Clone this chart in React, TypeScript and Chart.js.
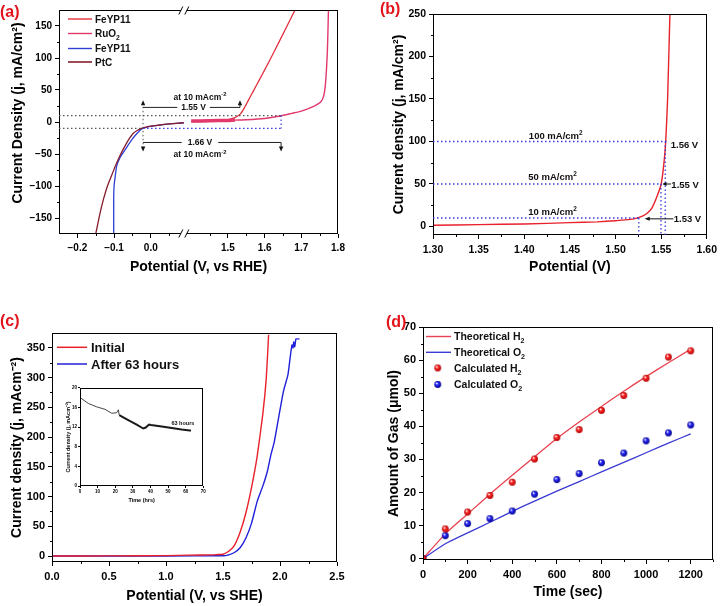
import React, { useEffect, useRef } from 'react';
import { Chart, registerables } from 'chart.js';
Chart.register(...registerables);

const FONT = "'Liberation Sans', Arial, Helvetica, sans-serif";

// ---------------- Panel (a) ----------------
const A_BREAK_LO = 0.09;
const A_BREAK_HI = 1.38;
const A_X_TICKS = [-0.2, -0.1, 0.0, 1.5, 1.6, 1.7, 1.8];
const A_X_LABELS = ['\u22120.2', '\u22120.1', '0.0', '1.5', '1.6', '1.7', '1.8'];
const A_X_MINOR = [-0.15, -0.05, 0.05, 1.45, 1.55, 1.65, 1.75];
const A_Y_TICKS = [-150, -100, -50, 0, 50, 100, 150];
const A_Y_LABELS = ['\u2212150', '\u2212100', '\u221250', '0', '50', '100', '150'];
const A_Y_MINOR = [-125, -75, -25, 25, 75, 125];

const A_OER_X = [1.40, 1.45, 1.48, 1.50, 1.515, 1.525, 1.535, 1.545, 1.555, 1.57, 1.585, 1.60, 1.628, 1.655, 1.683];
const A_OER_Y = [0.5, 1, 2, 3.5, 6, 8.5, 13, 22, 33, 49, 65, 81, 112, 143, 175];
const A_RUO2_X = [1.40, 1.45, 1.50, 1.52, 1.55, 1.60, 1.642, 1.674, 1.70, 1.719, 1.74, 1.752, 1.758, 1.762, 1.765, 1.767, 1.769, 1.771, 1.7725, 1.774];
const A_RUO2_Y = [1.5, 2, 2.5, 3, 3.5, 5.5, 9.3, 13.5, 17, 21, 26.5, 31, 36, 43, 55, 68, 86, 110, 140, 175];
const A_PTC_X = [-0.15, -0.14, -0.129, -0.118, -0.107, -0.097, -0.086, -0.076, -0.062, -0.0475, -0.035, -0.025, -0.01, 0.0, 0.025, 0.05, 0.09];
const A_PTC_Y = [-175, -147, -121, -100, -84, -69.5, -55, -43.5, -29, -17.6, -12.5, -9.8, -7.5, -6.5, -4.7, -3, -1.2];
const A_HER_X = [-0.101, -0.101, -0.1, -0.098, -0.093, -0.085, -0.07, -0.052, -0.037, -0.025, -0.01, 0.0, 0.025, 0.05, 0.09];
const A_HER_Y = [-175, -120, -100, -90, -69.5, -57, -43.5, -28, -17.6, -11, -8, -6.8, -4.8, -3, -1.2];

// ---------------- Panel (b) ----------------
const B_X_TICKS = [1.30, 1.35, 1.40, 1.45, 1.50, 1.55, 1.60];
const B_X_LABELS = ['1.30', '1.35', '1.40', '1.45', '1.50', '1.55', '1.60'];
const B_X_MINOR = [1.325, 1.375, 1.425, 1.475, 1.525, 1.575];
const B_Y_TICKS = [0, 50, 100, 150, 200, 250];
const B_Y_LABELS = ['0', '50', '100', '150', '200', '250'];
const B_Y_MINOR = [25, 75, 125, 175, 225];
const B_X = [1.30, 1.35, 1.40, 1.45, 1.48, 1.50, 1.51, 1.52, 1.525, 1.53, 1.535, 1.54, 1.545, 1.55, 1.553, 1.555, 1.557, 1.559, 1.5596];
const B_Y = [1.5, 2.2, 3, 4.5, 5.5, 6.8, 7.8, 9, 10.5, 12.5, 16, 22, 34, 50, 74, 100, 148, 226, 250];

// ---------------- Panel (c) ----------------
const C_X_TICKS = [0, 0.5, 1.0, 1.5, 2.0, 2.5];
const C_X_LABELS = ['0.0', '0.5', '1.0', '1.5', '2.0', '2.5'];
const C_X_MINOR = [0.25, 0.75, 1.25, 1.75, 2.25];
const C_Y_TICKS = [0, 50, 100, 150, 200, 250, 300, 350];
const C_Y_LABELS = ['0', '50', '100', '150', '200', '250', '300', '350'];
const C_Y_MINOR = [25, 75, 125, 175, 225, 275, 325];
const C_INIT_X = [0, 0.5, 1.0, 1.2, 1.4, 1.45, 1.5, 1.55, 1.6, 1.65, 1.7, 1.75, 1.8, 1.85, 1.88, 1.90];
const C_INIT_Y = [0, 0.3, 0.8, 1.5, 2, 2.5, 3, 8, 18, 40, 72, 115, 168, 240, 300, 372];
const C_AFTER_X = [0, 0.5, 1.0, 1.5, 1.55, 1.6, 1.65, 1.7, 1.75, 1.8, 1.85, 1.89, 1.92, 1.95, 1.99, 2.03, 2.07, 2.09, 2.105, 2.115, 2.12, 2.13, 2.14, 2.17];
const C_AFTER_Y = [0, 0, 0.2, 0.5, 2, 6, 14, 30, 55, 92, 118, 143, 170, 192, 235, 277, 305, 335, 355, 350, 360, 352, 365, 365];
// inset
const CI_X_TICKS = [0, 10, 20, 30, 40, 50, 60, 70];
const CI_X_LABELS = ['0', '10', '20', '30', '40', '50', '60', '70'];
const CI_Y_TICKS = [0, 4, 8, 12, 16, 20];
const CI_Y_LABELS = ['0', '4', '8', '12', '16', '20'];
const CI_T = [0, 4.7, 9.5, 14.2, 18, 20.8, 21.8, 22.3, 27.4, 32.2, 35.9, 37.3, 39.2, 40.3, 46.4, 54, 57.7, 62.4, 63];
const CI_J = [18, 16.8, 16.1, 15.6, 14.8, 14.9, 15.5, 14.4, 13.4, 12.5, 11.7, 11.9, 12.5, 12.4, 12.1, 11.7, 11.5, 11.3, 11.3];

// ---------------- Panel (d) ----------------
const D_X_TICKS = [0, 200, 400, 600, 800, 1000, 1200];
const D_X_LABELS = ['0', '200', '400', '600', '800', '1000', '1200'];
const D_X_MINOR = [100, 300, 500, 700, 900, 1100, 1300];
const D_Y_TICKS = [0, 10, 20, 30, 40, 50, 60, 70];
const D_Y_LABELS = ['0', '10', '20', '30', '40', '50', '60', '70'];
const D_Y_MINOR = [5, 15, 25, 35, 45, 55, 65];
const D_T = [0, 100, 200, 300, 400, 500, 600, 700, 800, 900, 1000, 1100, 1200];
const D_THEO_H2 = [0, 7.5, 13.5, 19.5, 25.2, 30.8, 36.3, 41.3, 46, 50.6, 55, 59.2, 63.3];
const D_THEO_O2 = [0, 4.5, 7.8, 11, 14.3, 17.4, 20.4, 23.3, 26.2, 29.1, 32.0, 34.9, 37.7];
const D_CALC_H2 = [0, 9, 14.1, 19.1, 23.1, 30.1, 36.6, 39, 44.8, 49.3, 54.5, 60.9, 62.8];
const D_CALC_O2 = [0, 6.95, 10.6, 12.1, 14.4, 19.5, 23.9, 25.7, 29, 31.9, 35.6, 38, 40.4];

// colours
const RED_A = '#e3303d';
const PINK_A = '#e2386c';
const BLUE_A = '#2f3fd4';
const PTC_A = '#861c2c';
const RED = '#e8212b';
const BLUE = '#2020d8';
const DOTBLUE = '#3a3ad8';

const uA = (x: number) => (x <= A_BREAK_LO + 1e-9 ? x : x - (A_BREAK_HI - A_BREAK_LO));
const pts = (xs: number[], ys: number[], fx = (v: number) => v) => xs.map((x, i) => ({ x: fx(x), y: ys[i] }));

function mkAxis(o: any) {
  const horiz = o.position === 'bottom';
  const ts = o.titleSize ?? 14;
  return {
    type: 'linear',
    position: o.position,
    min: o.min,
    max: o.max,
    afterBuildTicks: (s: any) => {
      s.ticks = o.ticks.map((v: number) => ({ value: v }));
    },
    afterFit: (s: any) => {
      if (horiz) s.height = o.size;
      else s.width = o.size;
    },
    ticks: {
      autoSkip: false,
      maxRotation: 0,
      minRotation: 0,
      padding: o.tickPad ?? 3,
      color: '#000',
      font: { family: FONT, size: o.font, weight: 'bold' },
      callback: (_v: any, i: number) => o.labels[i],
    },
    grid: {
      display: true,
      drawOnChartArea: false,
      drawTicks: true,
      tickLength: o.tickLen ?? 4,
      tickColor: '#000',
      color: '#000',
      lineWidth: 1,
    },
    border: { display: false },
    title: {
      display: o.title !== '',
      text: o.title,
      color: '#000',
      font: { family: FONT, size: ts, weight: 'bold' },
      padding: horiz ? { top: 0, bottom: o.titlePad } : { top: o.titlePad, bottom: 0 },
    },
  };
}

function lineDS(data: any[], color: string, width: number, extra: any = {}) {
  return {
    data,
    borderColor: color,
    backgroundColor: color,
    borderWidth: width,
    pointRadius: 0,
    pointHoverRadius: 0,
    tension: 0.15,
    fill: false,
    ...extra,
  };
}

function seg(ctx: any, x1: number, y1: number, x2: number, y2: number, color: string, width = 1, dash: number[] = []) {
  ctx.save();
  ctx.strokeStyle = color;
  ctx.lineWidth = width;
  ctx.setLineDash(dash);
  ctx.beginPath();
  ctx.moveTo(x1, y1);
  ctx.lineTo(x2, y2);
  ctx.stroke();
  ctx.restore();
}

function head(ctx: any, x: number, y: number, dir: string, color = '#111', len = 5, half = 2.2) {
  ctx.save();
  ctx.fillStyle = color;
  ctx.beginPath();
  if (dir === 'up') {
    ctx.moveTo(x, y); ctx.lineTo(x - half, y + len); ctx.lineTo(x + half, y + len);
  } else if (dir === 'down') {
    ctx.moveTo(x, y); ctx.lineTo(x - half, y - len); ctx.lineTo(x + half, y - len);
  } else if (dir === 'left') {
    ctx.moveTo(x, y); ctx.lineTo(x + len, y - half); ctx.lineTo(x + len, y + half);
  } else {
    ctx.moveTo(x, y); ctx.lineTo(x - len, y - half); ctx.lineTo(x - len, y + half);
  }
  ctx.closePath();
  ctx.fill();
  ctx.restore();
}

// rich text: parts are [text, mode] where mode is '' | 'sub' | 'sup'
type Part = [string, string];
function richWidth(ctx: any, parts: Part[], size: number) {
  let w = 0;
  ctx.save();
  for (const [s, m] of parts) {
    const fs = m ? size * 0.68 : size;
    ctx.font = `bold ${fs}px ${FONT}`;
    w += ctx.measureText(s).width;
  }
  ctx.restore();
  return w;
}
function rich(ctx: any, parts: Part[], x: number, y: number, size: number, align = 'left', color = '#111') {
  const w = richWidth(ctx, parts, size);
  let cx = align === 'center' ? x - w / 2 : align === 'right' ? x - w : x;
  ctx.save();
  ctx.fillStyle = color;
  ctx.textAlign = 'left';
  ctx.textBaseline = 'alphabetic';
  const base = y + size * 0.35;
  for (const [s, m] of parts) {
    const fs = m ? size * 0.68 : size;
    ctx.font = `bold ${fs}px ${FONT}`;
    const dy = m === 'sub' ? size * 0.28 : m === 'sup' ? -size * 0.38 : 0;
    ctx.fillText(s, cx, base + dy);
    cx += ctx.measureText(s).width;
  }
  ctx.restore();
  return w;
}
const txt = (ctx: any, s: string, x: number, y: number, size: number, align = 'center', color = '#111') =>
  rich(ctx, [[s, '']], x, y, size, align, color);

function frame(chart: any, minorX: number[], minorY: number[], len = 2.5) {
  const { ctx, chartArea: a, scales } = chart;
  ctx.save();
  ctx.strokeStyle = '#000';
  ctx.lineWidth = 1;
  const l = Math.round(a.left) + 0.5;
  const t = Math.round(a.top) + 0.5;
  const r = Math.round(a.right) - 0.5;
  const b = Math.round(a.bottom) - 0.5;
  ctx.strokeRect(l, t, r - l, b - t);
  ctx.beginPath();
  for (const v of minorX) {
    const x = Math.round(scales.x.getPixelForValue(v)) + 0.5;
    ctx.moveTo(x, b);
    ctx.lineTo(x, b + len);
  }
  for (const v of minorY) {
    const y = Math.round(scales.y.getPixelForValue(v)) + 0.5;
    ctx.moveTo(l - len, y);
    ctx.lineTo(l, y);
  }
  ctx.stroke();
  ctx.restore();
}

function legendLine(ctx: any, x1: number, x2: number, y: number, color: string, width: number, label: Part[], tx: number, size: number) {
  seg(ctx, x1, y, x2, y, color, width);
  rich(ctx, label, tx, y, size, 'left', '#111');
}

function ball(color: string, dark: string, r = 3.4) {
  const c = document.createElement('canvas');
  const s = Math.ceil(r * 2) + 2;
  c.width = s;
  c.height = s;
  const g = c.getContext('2d')!;
  const cx = s / 2;
  const grad = g.createRadialGradient(cx - r * 0.35, cx - r * 0.4, r * 0.1, cx, cx, r);
  grad.addColorStop(0, '#ffffff');
  grad.addColorStop(0.35, color);
  grad.addColorStop(1, dark);
  g.fillStyle = grad;
  g.beginPath();
  g.arc(cx, cx, r, 0, Math.PI * 2);
  g.fill();
  return c;
}

const baseOptions = (padding: any, scales: any) => ({
  responsive: false,
  animation: false,
  devicePixelRatio: 1,
  layout: { padding },
  plugins: { legend: { display: false }, tooltip: { enabled: false } },
  events: [],
  scales,
});

const AT10: Part[] = [['at 10 mAcm', ''], ['-2', 'sup']];

// ---------- configs ----------
function configA() {
  const decor = {
    id: 'decorA',
    afterDraw(chart: any) {
      const { ctx, chartArea: a, scales } = chart;
      const X = (u: number) => scales.x.getPixelForValue(u);
      const Y = (v: number) => scales.y.getPixelForValue(v);
      frame(chart, A_X_MINOR.map(uA), A_Y_MINOR);
      // y-axis title (placed as in the reference, slightly above centre)
      ctx.save();
      ctx.translate(18, 113);
      ctx.rotate(-Math.PI / 2);
      ctx.font = `bold 14px ${FONT}`;
      ctx.fillStyle = '#000';
      ctx.textAlign = 'center';
      ctx.textBaseline = 'middle';
      ctx.fillText('Current Density (j, mA/cm\u00B2)', 0, 0);
      ctx.restore();
      // axis break marks
      const bx = X(A_BREAK_LO);
      for (const yy of [Math.round(a.top) + 0.5, Math.round(a.bottom) - 0.5]) {
        ctx.save();
        ctx.fillStyle = '#fff';
        ctx.fillRect(bx - 3, yy - 2, 6, 4);
        ctx.restore();
        seg(ctx, bx - 5, yy + 4, bx - 1, yy - 4, '#000', 1);
        seg(ctx, bx + 1, yy + 4, bx + 5, yy - 4, '#000', 1);
      }
      const dot = [1.5, 2.5];
      const xl = -0.021;
      const xr = 0.355;
      const xm = 0.243;
      seg(ctx, X(-0.25), Y(10), X(xr), Y(10), '#555', 1.2, dot);
      seg(ctx, X(-0.25), Y(-10), X(xl), Y(-10), '#555', 1.2, dot);
      seg(ctx, X(xl), Y(-10), X(xr), Y(-10), DOTBLUE, 1.2, dot);
      seg(ctx, X(xr), Y(10), X(xr), Y(-10), DOTBLUE, 1.2, dot);
      seg(ctx, X(xl), Y(30), X(xl), Y(-42), '#555', 1, dot);
      head(ctx, X(xl), Y(34), 'up');
      head(ctx, X(xl), Y(-46), 'down');
      // upper bracket
      const yu = Y(22.8);
      const cu = X(0.1165);
      const w1 = richWidth(ctx, [['1.55 V', '']], 8.5) / 2 + 4;
      seg(ctx, X(xl), yu, cu - w1, yu, '#222', 1);
      seg(ctx, cu + w1, yu, X(xm), yu, '#222', 1);
      txt(ctx, '1.55 V', cu, yu, 8.5);
      seg(ctx, X(xm), yu, X(xm), Y(30), '#222', 1);
      head(ctx, X(xm), Y(34), 'up');
      rich(ctx, AT10, X(0.134), Y(39.5), 8.5, 'center');
      // lower bracket
      const yl = Y(-32);
      const cl = X(0.134);
      const w2 = richWidth(ctx, [['1.66 V', '']], 8.5) / 2 + 6;
      seg(ctx, X(xl), yl, cl - w2, yl, '#222', 1);
      seg(ctx, cl + w2, yl, X(xr), yl, '#222', 1);
      txt(ctx, '1.66 V', cl, yl, 8.5);
      seg(ctx, X(xr), yl, X(xr), Y(-42), '#222', 1);
      head(ctx, X(xr), Y(-46), 'down');
      rich(ctx, AT10, cl, Y(-50.5), 8.5, 'center');
      // legend
      legendLine(ctx, 68, 92, 19, RED_A, 1.4, [['FeYP11', '']], 95, 10);
      legendLine(ctx, 68, 92, 33.5, PINK_A, 1.4, [['RuO', ''], ['2', 'sub']], 95, 10);
      legendLine(ctx, 68, 92, 48.5, BLUE_A, 1.4, [['FeYP11', '']], 95, 10);
      legendLine(ctx, 68, 92, 62, PTC_A, 1.6, [['PtC', '']], 95, 10);
    },
  };
  return {
    type: 'line',
    data: {
      datasets: [
        lineDS(pts(A_PTC_X, A_PTC_Y, uA), PTC_A, 1.3),
        lineDS(pts(A_HER_X, A_HER_Y, uA), BLUE_A, 1.3),
        lineDS(pts(A_RUO2_X, A_RUO2_Y, uA), PINK_A, 1.4, {
          segment: { borderWidth: (c: any) => (c.p0DataIndex < 3 ? 3.5 : 1.4) },
        }),
        lineDS(pts(A_OER_X, A_OER_Y, uA), RED_A, 1.3),
      ],
    },
    options: baseOptions({ left: 0, top: 10, right: 23, bottom: 0 }, {
      x: mkAxis({ position: 'bottom', min: -0.25, max: uA(1.8), ticks: A_X_TICKS.map(uA), labels: A_X_LABELS, size: 69, font: 10, title: 'Potential (V, vs RHE)', titlePad: 27.6, tickPad: 4 }),
      y: mkAxis({ position: 'left', min: -175, max: 175, ticks: A_Y_TICKS, labels: A_Y_LABELS, size: 59, font: 10, title: '', titlePad: 9.6 }),
    }),
    plugins: [decor],
  };
}

function configB() {
  const decor = {
    id: 'decorB',
    afterDraw(chart: any) {
      const { ctx, scales } = chart;
      const X = (u: number) => scales.x.getPixelForValue(u);
      const Y = (v: number) => scales.y.getPixelForValue(v);
      frame(chart, B_X_MINOR, B_Y_MINOR);
      const dot = [1.5, 2.5];
      seg(ctx, X(1.30), Y(100), X(1.556), Y(100), DOTBLUE, 1.3, dot);
      seg(ctx, X(1.30), Y(50), X(1.5505), Y(50), DOTBLUE, 1.3, dot);
      seg(ctx, X(1.30), Y(10), X(1.5255), Y(10), DOTBLUE, 1.3, dot);
      seg(ctx, X(1.5255), Y(10), X(1.5255), Y(-10), DOTBLUE, 1.3, dot);
      seg(ctx, X(1.5498), Y(50), X(1.5498), Y(-10), DOTBLUE, 1.3, dot);
      seg(ctx, X(1.5545), Y(100), X(1.5545), Y(-10), DOTBLUE, 1.3, dot);
      rich(ctx, [['100 mA/cm', ''], ['2', 'sup']], X(1.4345), Y(107.4), 9.5, 'center');
      rich(ctx, [['50 mA/cm', ''], ['2', 'sup']], X(1.431), Y(58.6), 9.5, 'center');
      rich(ctx, [['10 mA/cm', ''], ['2', 'sup']], X(1.431), Y(17.6), 9.5, 'center');
      txt(ctx, '1.56 V', X(1.5605), Y(96.5), 9.5, 'left');
      seg(ctx, X(1.5607), Y(50), X(1.5525), Y(50), '#111', 1);
      head(ctx, X(1.5515), Y(50), 'left', '#111', 4, 2);
      txt(ctx, '1.55 V', X(1.5612), Y(49.6), 9.5, 'left');
      seg(ctx, X(1.5634), Y(9), X(1.534), Y(9), '#111', 1);
      head(ctx, X(1.532), Y(9), 'left', '#111', 5, 2);
      txt(ctx, '1.53 V', X(1.5638), Y(9), 9.5, 'left');
    },
  };
  return {
    type: 'line',
    data: { datasets: [lineDS(pts(B_X, B_Y), RED, 1.4)] },
    options: baseOptions({ left: 0, top: 14, right: 14, bottom: 0 }, {
      x: mkAxis({ position: 'bottom', min: 1.30, max: 1.60, ticks: B_X_TICKS, labels: B_X_LABELS, size: 68, font: 10.5, title: 'Potential (V)', titlePad: 27.6, tickPad: 5 }),
      y: mkAxis({ position: 'left', min: -10, max: 250, ticks: B_Y_TICKS, labels: B_Y_LABELS, size: 72, font: 10.5, title: 'Current density (j, mA/cm\u00B2)', titlePad: 29.6 }),
    }),
    plugins: [decor],
  };
}

function configC() {
  const decor = {
    id: 'decorC',
    afterDraw(chart: any) {
      const { ctx } = chart;
      frame(chart, C_X_MINOR, C_Y_MINOR);
      legendLine(ctx, 57, 87, 44.3, RED, 1.5, [['Initial', '']], 91, 13);
      legendLine(ctx, 57, 87, 61, BLUE, 1.5, [['After 63 hours', '']], 91, 13);
    },
  };
  return {
    type: 'line',
    data: {
      datasets: [
        lineDS(pts(C_INIT_X, C_INIT_Y), RED, 1.4),
        lineDS(pts(C_AFTER_X, C_AFTER_Y), BLUE, 1.4),
      ],
    },
    options: baseOptions({ left: 0, top: 30, right: 24, bottom: 0 }, {
      x: mkAxis({ position: 'bottom', min: 0, max: 2.5, ticks: C_X_TICKS, labels: C_X_LABELS, size: 44, font: 11, title: 'Potential (V, vs SHE)', titlePad: 1.9, tickPad: 4 }),
      y: mkAxis({ position: 'left', min: -10, max: 375, ticks: C_Y_TICKS, labels: C_Y_LABELS, size: 52, font: 11, title: 'Current density (j, mAcm\u207B\u00B2)', titlePad: 8.3 }),
    }),
    plugins: [decor],
  };
}

function configInset() {
  const decor = {
    id: 'decorInset',
    afterDraw(chart: any) {
      const { ctx, scales } = chart;
      frame(chart, [], [], 0);
      txt(ctx, '63 hours', scales.x.getPixelForValue(58.4), scales.y.getPixelForValue(12.9), 5.5);
    },
  };
  const idx = CI_T.indexOf(22.3);
  return {
    type: 'line',
    data: {
      datasets: [
        lineDS(pts(CI_T, CI_J), '#1a1a1a', 0.8, {
          tension: 0,
          segment: { borderWidth: (c: any) => (c.p0DataIndex >= idx ? 2 : 0.8) },
        }),
      ],
    },
    options: baseOptions({ left: 0, top: 5.7, right: 4.7, bottom: 0 }, {
      x: mkAxis({ position: 'bottom', min: 0, max: 70, ticks: CI_X_TICKS, labels: CI_X_LABELS, size: 21, font: 4.5, title: 'Time (hrs)', titleSize: 5.5, titlePad: 3.7, tickLen: 2, tickPad: 1 }),
      y: mkAxis({ position: 'left', min: 0, max: 20, ticks: CI_Y_TICKS, labels: CI_Y_LABELS, size: 22, font: 4.5, title: 'Current density (j, mAcm\u207B\u00B2)', titleSize: 5.5, titlePad: 6.7, tickLen: 2, tickPad: 1 }),
    }),
    plugins: [decor],
  };
}

function configD() {
  const redBall = ball('#ff2a2a', '#b00000');
  const blueBall = ball('#2a2aff', '#00008a');
  const decor = {
    id: 'decorD',
    afterDraw(chart: any) {
      const { ctx } = chart;
      frame(chart, D_X_MINOR, D_Y_MINOR);
      legendLine(ctx, 65, 90, 33.5, '#e8414f', 1.4, [['Theoretical H', ''], ['2', 'sub']], 93, 10.5);
      legendLine(ctx, 65, 90, 49.3, '#3b3bd4', 1.4, [['Theoretical O', ''], ['2', 'sub']], 93, 10.5);
      ctx.drawImage(redBall, 76.7 - redBall.width / 2, 65 - redBall.height / 2);
      rich(ctx, [['Calculated H', ''], ['2', 'sub']], 93, 65, 10.5, 'left');
      ctx.drawImage(blueBall, 76.7 - blueBall.width / 2, 81.5 - blueBall.height / 2);
      rich(ctx, [['Calculated O', ''], ['2', 'sub']], 93, 81.5, 10.5, 'left');
    },
  };
  return {
    type: 'line',
    data: {
      datasets: [
        { data: pts(D_T, D_CALC_H2), showLine: false, pointStyle: redBall, pointRadius: 3.4, pointHoverRadius: 3.4, borderColor: '#e00', backgroundColor: '#e00' },
        { data: pts(D_T, D_CALC_O2), showLine: false, pointStyle: blueBall, pointRadius: 3.4, pointHoverRadius: 3.4, borderColor: '#00e', backgroundColor: '#00e' },
        lineDS(pts(D_T, D_THEO_H2), '#e8414f', 1.3, { tension: 0.2 }),
        lineDS(pts(D_T, D_THEO_O2), '#3b3bd4', 1.3, { tension: 0.2 }),
      ],
    },
    options: baseOptions({ left: 0, top: 24, right: 9, bottom: 0 }, {
      x: mkAxis({ position: 'bottom', min: 0, max: 1300, ticks: D_X_TICKS, labels: D_X_LABELS, size: 46, font: 11, title: 'Time (sec)', titlePad: 5.3, tickPad: 4 }),
      y: mkAxis({ position: 'left', min: -0.4, max: 70, ticks: D_Y_TICKS, labels: D_Y_LABELS, size: 62, font: 11, title: 'Amount of Gas (\u03BCmol)', titlePad: 24.9 }),
    }),
    plugins: [decor],
  };
}

function ChartBox(props: { left: number; top: number; width: number; height: number; make: () => any }) {
  const ref = useRef<HTMLCanvasElement>(null);
  useEffect(() => {
    const chart = new Chart(ref.current as HTMLCanvasElement, props.make());
    return () => chart.destroy();
  }, []);
  return (
    <canvas
      ref={ref}
      width={props.width}
      height={props.height}
      style={{ position: 'absolute', left: props.left, top: props.top, width: props.width, height: props.height }}
    />
  );
}

const panelLabel = (s: string, left: number, top: number) => (
  <div
    style={{
      position: 'absolute',
      left,
      top,
      font: `bold 16px ${FONT}`,
      lineHeight: '16px',
      color: '#e3141b',
      whiteSpace: 'nowrap',
    }}
  >
    {s}
  </div>
);

export default function App() {
  return (
    <div style={{ position: 'fixed', left: 0, top: 0, width: 722, height: 606, background: '#fff', overflow: 'hidden' }}>
      <ChartBox left={0} top={0} width={361} height={303} make={configA} />
      <ChartBox left={361} top={0} width={361} height={303} make={configB} />
      <ChartBox left={0} top={303} width={361} height={303} make={configC} />
      <ChartBox left={58} top={382} width={150} height={125} make={configInset} />
      <ChartBox left={361} top={303} width={361} height={303} make={configD} />
      {panelLabel('(a)', 0, 4)}
      {panelLabel('(b)', 380, 1)}
      {panelLabel('(c)', 0, 313)}
      {panelLabel('(d)', 386, 314)}
    </div>
  );
}
